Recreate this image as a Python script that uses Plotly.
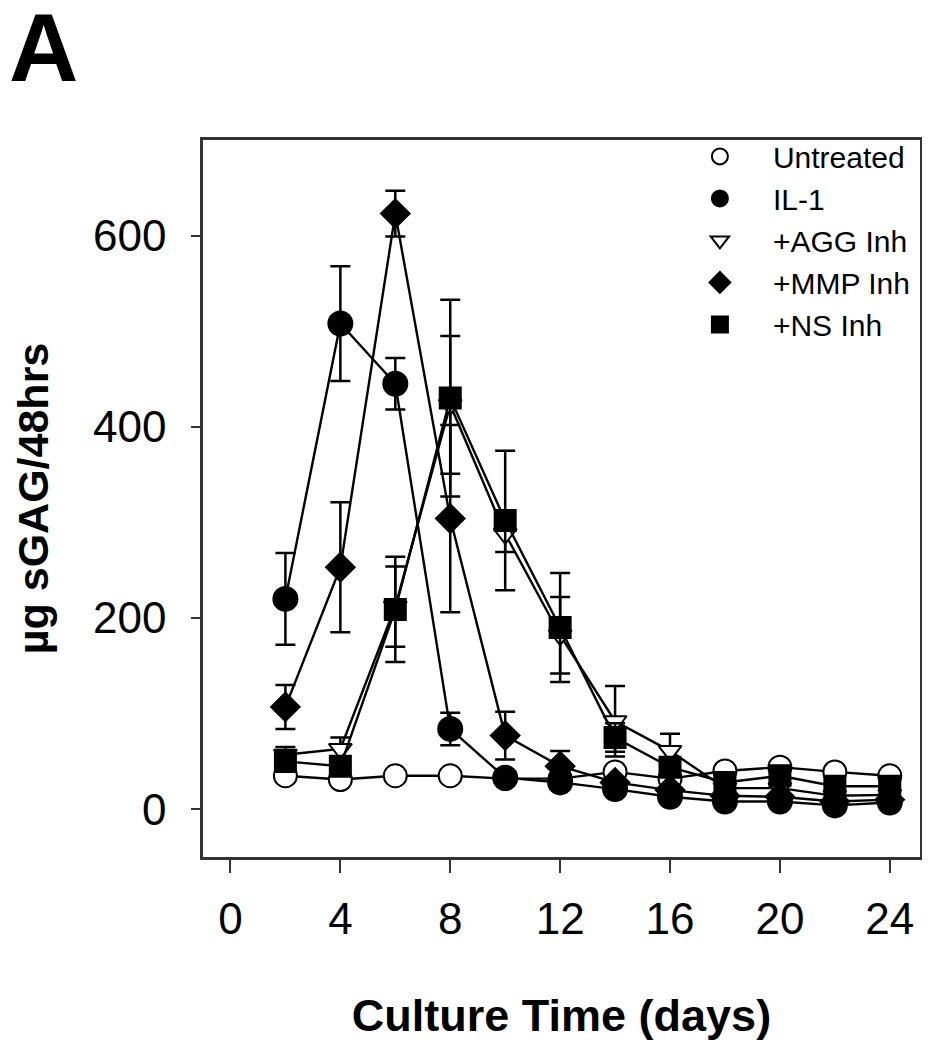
import plotly.graph_objects as go

days = [2, 4, 6, 8, 10, 12, 14, 16, 18, 20, 22, 24]

untreated = [35, 31, 35, 35, 32, 32, 39, 32, 40, 44, 39, 35]
untreated_err = [5, 4, 4, 4, 4, 4, 5, 4, 5, 5, 4, 4]

il1 = [220, 508, 445, 84, 33, 28, 21, 13, 8, 8, 4, 7]
il1_err = [48, 60, 27, 17, 5, 5, 5, 4, 3, 3, 3, 3]

agg = [57, 63, 212, 423, 288, 182, 92, 61, 22, 22, 14, 15]
agg_err = [8, 12, 42, 72, 19, 40, 37, 18, 5, 5, 4, 4]

mmp = [107, 253, 623, 304, 77, 45, 28, 20, 14, 13, 8, 10]
mmp_err = [23, 68, 24, 98, 25, 16, 5, 4, 4, 4, 3, 3]

ns = [50, 45, 209, 430, 302, 190, 75, 44, 28, 35, 24, 24]
ns_err = [7, 8, 55, 103, 73, 57, 15, 6, 5, 5, 4, 4]

x_ticks = [0, 4, 8, 12, 16, 20, 24]
y_ticks = [0, 200, 400, 600]

FONT = "Liberation Sans, Arial, sans-serif"

series = [
    ("Untreated", untreated, untreated_err, "circle", "white", 23),
    ("IL-1", il1, il1_err, "circle", "black", 24),
    ("+AGG Inh", agg, agg_err, "triangle-down", "white", 20),
    ("+MMP Inh", mmp, mmp_err, "diamond", "black", 22),
    ("+NS Inh", ns, ns_err, "square", "black", 21),
]

fig = go.Figure()
for name, vals, errs, sym, fill, size in series:
    fig.add_trace(go.Scatter(
        x=days, y=vals, name=name, mode="lines+markers",
        legendgroup=name, showlegend=False,
        line=dict(color="black", width=2.4),
        marker=dict(symbol=sym, size=size, color=fill,
                    line=dict(color="black", width=2)),
        error_y=dict(type="data", array=errs, visible=True,
                     color="black", thickness=2.5, width=10),
    ))
# legend entries show markers only, as in the reference
for name, vals, errs, sym, fill, size in series:
    fig.add_trace(go.Scatter(
        x=[None], y=[None], name=name, mode="markers",
        legendgroup=name, showlegend=True,
        marker=dict(symbol=sym, size=size, color=fill,
                    line=dict(color="black", width=2)),
    ))

fig.update_layout(
    width=930, height=1050,
    margin=dict(l=195, r=18, t=132, b=201),
    paper_bgcolor="white", plot_bgcolor="white",
    font=dict(family=FONT, color="black"),
    showlegend=True,
    legend=dict(
        x=0.647, y=1.0134, xanchor="left", yanchor="top",
        font=dict(size=30, family=FONT, color="black"),
        itemwidth=96, bgcolor="rgba(0,0,0,0)", borderwidth=0,
        tracegroupgap=0, itemsizing="trace",
    ),
    annotations=[dict(
        text="<b>A</b>", x=0, y=1, xref="paper", yref="paper",
        xanchor="left", yanchor="top", showarrow=False,
        font=dict(size=96, family=FONT, color="black"),
        xshift=-196, yshift=148,
    )],
)

fig.update_xaxes(
    range=[-1, 25.1], tickvals=x_ticks, ticks="outside", ticklen=13,
    tickwidth=2, tickcolor="#333",
    showline=True, linewidth=2.5, linecolor="#333", mirror=True,
    showgrid=False, zeroline=False,
    tickfont=dict(size=44, family=FONT, color="black"),
    ticklabelstandoff=8,
    title=dict(text="<b>Culture Time (days)</b>", standoff=58,
               font=dict(size=45, family=FONT, color="black")),
)
fig.update_yaxes(
    range=[-50, 700], tickvals=y_ticks, ticks="outside", ticklen=9,
    tickwidth=2, tickcolor="#333",
    showline=True, linewidth=2.5, linecolor="#333", mirror=True,
    showgrid=False, zeroline=False,
    tickfont=dict(size=44, family=FONT, color="black"),
    ticklabelstandoff=16,
    title=dict(text="<b>µg sGAG/48hrs</b>", standoff=31,
               font=dict(size=43, family=FONT, color="black")),
)

fig.write_html("out.html")
